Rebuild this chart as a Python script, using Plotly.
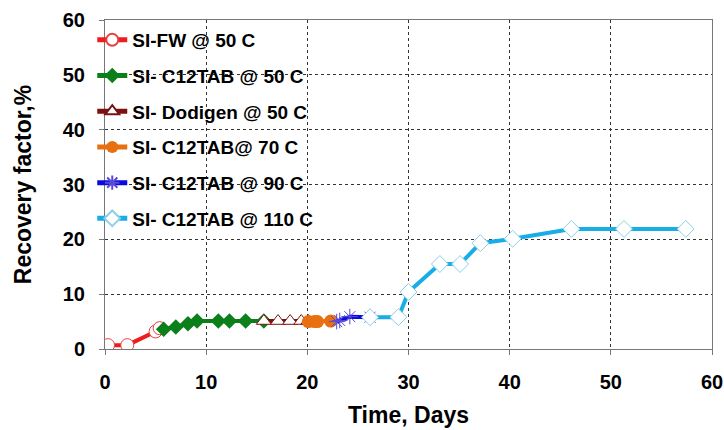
import plotly.graph_objects as go

# Data
fw_x = [0.0, 0.3, 2.2, 5.0, 5.4]
fw_y = [0.1, 0.7, 0.7, 3.2, 3.8]

c50_x = [5.8, 7.0, 8.2, 9.1, 11.2, 12.3, 13.9, 15.7]
c50_y = [3.6, 4.0, 4.6, 5.1, 5.1, 5.1, 5.1, 5.1]

dod_x = [15.7, 17.1, 18.3, 19.4, 20.1]
dod_y = [5.1, 5.1, 5.1, 5.1, 5.1]

c70_x = [20.1, 20.7, 21.0, 22.3]
c70_y = [5.0, 5.0, 5.0, 5.1]

c90_x = [22.9, 23.2, 24.2, 26.2]
c90_y = [5.0, 5.2, 5.9, 5.8]

c110_x = [26.2, 29.0, 30.0, 33.1, 35.1, 37.1, 40.3, 46.1, 51.3, 57.4]
c110_y = [5.8, 5.8, 10.4, 15.5, 15.5, 19.3, 20.1, 21.9, 21.9, 21.9]

names = ["SI-FW @ 50 C", "SI- C12TAB @ 50 C", "SI- Dodigen @ 50 C",
         "SI- C12TAB@ 70 C", "SI- C12TAB @ 90 C", "SI- C12TAB @ 110 C"]

x_ticks = [0, 10, 20, 30, 40, 50, 60]
y_ticks = [0, 10, 20, 30, 40, 50, 60]

fig = go.Figure()

series = [
    (fw_x, fw_y, "#ee1c1c", dict(symbol="circle", size=13, color="white",
                                 line=dict(color="#e84040", width=1))),
    (c50_x, c50_y, "#0b7f1a", dict(symbol="diamond", size=12, color="#0b7f1a",
                                   line=dict(color="#0b7f1a", width=0))),
    (dod_x, dod_y, "#7a1212", dict(symbol="triangle-up", size=13, color="white",
                                   line=dict(color="#7a1212", width=1))),
    (c70_x, c70_y, "#e8700e", dict(symbol="circle", size=13, color="#e8700e",
                                   line=dict(color="#e8700e", width=0))),
    (c90_x, c90_y, "#0a0ae0", dict(symbol="asterisk-open", size=13, color="#5a4ad8",
                                   line=dict(color="#5a4ad8", width=1))),
    (c110_x, c110_y, "#18ade6", dict(symbol="diamond", size=13, color="white",
                                     line=dict(color="#8ccfe8", width=1))),
]

for i, ((xs, ys, col, mk), nm) in enumerate(zip(series, names)):
    fig.add_trace(go.Scatter(
        x=xs, y=ys, name=nm, mode="lines+markers",
        line=dict(color=col, width=4),
        marker=mk, legendgroup=f"g{i}",
    ))

fig.update_layout(
    width=724, height=430,
    margin=dict(l=105, r=12, t=20, b=81),
    paper_bgcolor="white", plot_bgcolor="white",
    font=dict(family="Liberation Sans, Arial, sans-serif", color="black"),
    showlegend=True,
    legend=dict(
        x=-0.021, y=0.997, xanchor="left", yanchor="top",
        bgcolor="rgba(0,0,0,0)",
        font=dict(size=19, family="Liberation Sans, Arial", color="black", weight="bold"),
        tracegroupgap=8, itemwidth=30, itemsizing="constant",
    ),
    xaxis=dict(
        range=[0, 60], tickvals=x_ticks, ticktext=[str(v) for v in x_ticks],
        showgrid=True, gridcolor="#333333", griddash="dot", gridwidth=1,
        showline=True, linecolor="#777777", linewidth=1, mirror=True,
        ticks="outside", ticklen=5, tickcolor="#777777",
        tickfont=dict(size=20, weight="bold"), ticklabelstandoff=10,
        title=dict(text="Time, Days", font=dict(size=23, weight="bold"), standoff=14),
        zeroline=False, automargin=False,
    ),
    yaxis=dict(
        range=[0, 60], tickvals=y_ticks, ticktext=[str(v) for v in y_ticks],
        showgrid=True, gridcolor="#333333", griddash="dot", gridwidth=1,
        showline=True, linecolor="#777777", linewidth=1, mirror=True,
        ticks="outside", ticklen=5, tickcolor="#777777",
        tickfont=dict(size=20, weight="bold"), ticklabelstandoff=10,
        title=dict(text="Recovery factor,%", font=dict(size=23, weight="bold"), standoff=24),
        zeroline=False, automargin=False,
    ),
)

fig.write_html("out.html", config={"displayModeBar": False},
               post_script="document.body.style.margin='0';document.body.style.overflow='hidden';")
